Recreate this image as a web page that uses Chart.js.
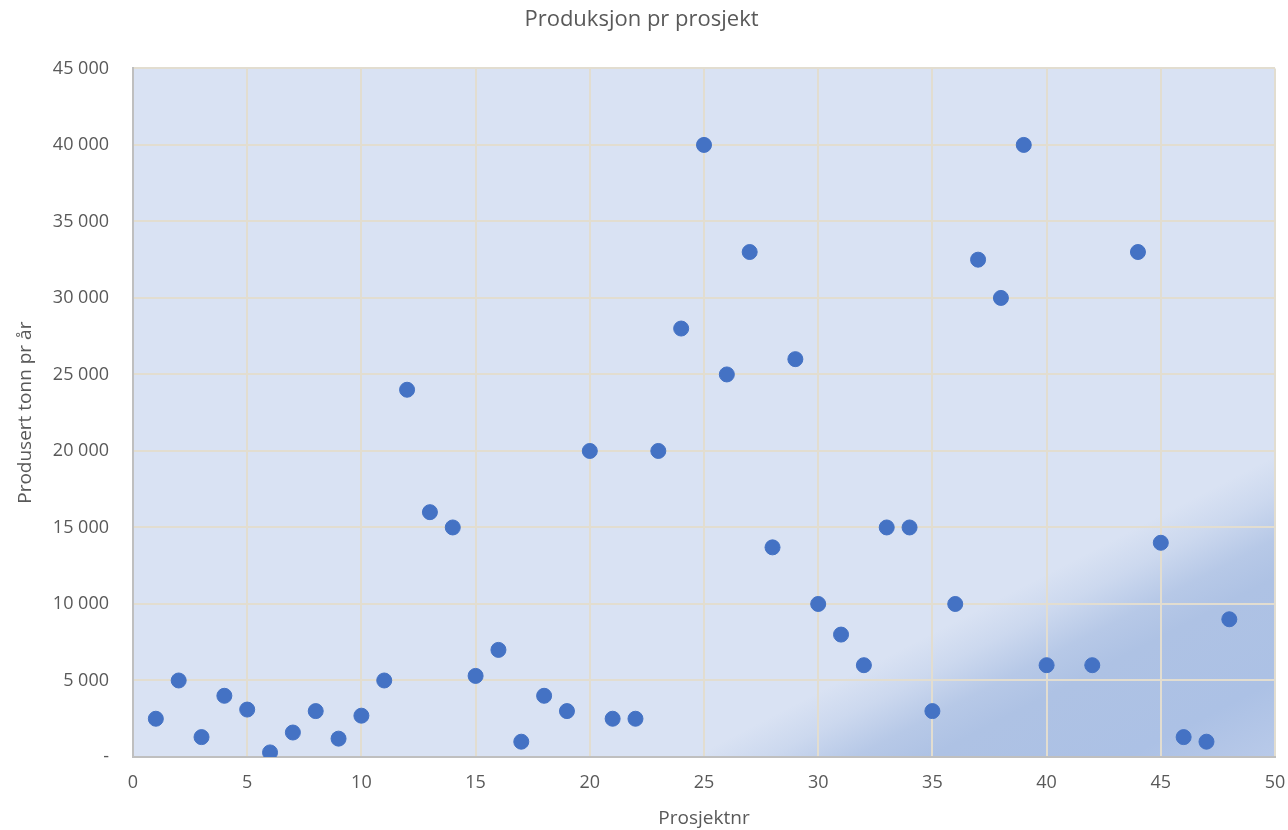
<!DOCTYPE html>
<html>
<head>
<meta charset="utf-8">
<script src="https://cdn.jsdelivr.net/npm/chart.js@4.4.1/dist/chart.umd.min.js"></script>
<style>
html,body{margin:0;padding:0;background:#fff;}
#wrap{width:1288px;height:830px;position:relative;}
</style>
</head>
<body>
<div id="wrap"><canvas id="c" width="1288" height="830"></canvas></div>
<script>
const chartTitle = "Produksjon pr prosjekt";
const xTitle = "Prosjektnr";
const yTitle = "Produsert tonn pr år";
const projectNumbers = [1,2,3,4,5,6,7,8,9,10,11,12,13,14,15,16,17,18,19,20,21,22,23,24,25,26,27,28,29,30,31,32,33,34,35,36,37,38,39,40,42,44,45,46,47,48];
const tonnesPerYear = [2500,5000,1300,4000,3100,300,1600,3000,1200,2700,5000,24000,16000,15000,5300,7000,1000,4000,3000,20000,2500,2500,20000,28000,40000,25000,33000,13700,26000,10000,8000,6000,15000,15000,3000,10000,32500,30000,40000,6000,6000,33000,14000,1300,1000,9000];
const xTickValues = [0,5,10,15,20,25,30,35,40,45,50];
const yTickValues = [0,5000,10000,15000,20000,25000,30000,35000,40000,45000];

const points = projectNumbers.map((x,i)=>({x:x,y:tonnesPerYear[i]}));

const bgPlugin = {
  id:'bgPlugin',
  beforeDraw(chart){
    const {ctx, chartArea:a} = chart;
    const w=a.right-a.left, h=a.bottom-a.top;
    ctx.save();
    ctx.fillStyle='#D9E2F3';
    ctx.fillRect(a.left,a.top,w,h);
    const p0x = a.left + w*0.49, p0y = a.bottom;
    const nx=0.459, ny=0.888;
    const L = 285;
    const g = ctx.createLinearGradient(p0x, p0y, p0x+nx*L, p0y+ny*L);
    g.addColorStop(0,'rgba(174,194,228,0)');
    g.addColorStop(0.12,'rgba(174,194,228,0.3)');
    g.addColorStop(0.26,'rgba(174,194,228,0.8)');
    g.addColorStop(0.38,'rgba(174,194,228,1)');
    g.addColorStop(0.7,'rgba(172,193,229,1)');
    g.addColorStop(1,'rgba(188,204,234,1)');
    ctx.fillStyle=g;
    ctx.fillRect(a.left,a.top,w,h);
    ctx.restore();
  }
};

function fmt(v){
  if(v===0) return '-';
  return String(v).replace(/\B(?=(\d{3})+(?!\d))/g,' ');
}

const FONT = "'Open Sans', 'Liberation Sans', sans-serif";
const TXT = '#595959';

new Chart(document.getElementById('c'),{
  type:'scatter',
  data:{datasets:[{
    data:points,
    backgroundColor:'#4472C4',
    borderColor:'#4472C4',
    pointRadius:7.5,
    pointHoverRadius:7.5
  }]},
  options:{
    responsive:false,
    animation:false,
    layout:{padding:{left:8,right:13,top:0,bottom:0}},
    plugins:{
      legend:{display:false},
      tooltip:{enabled:false},
      title:{display:true,text:chartTitle,color:TXT,font:{family:FONT,size:22,weight:'normal'},padding:{top:7,bottom:35}}
    },
    scales:{
      x:{
        type:'linear',min:0,max:50,
        afterBuildTicks(s){s.ticks=xTickValues.map(v=>({value:v}));},
        afterFit(s){s.height=73; s.paddingLeft=0; s.paddingRight=0;},
        ticks:{color:TXT,font:{family:FONT,size:18},padding:15,maxRotation:0},
        grid:{color:'#E2DDD0',lineWidth:2,drawTicks:false},
        border:{color:'#BFBFBF',width:2},
        title:{display:true,text:xTitle,color:TXT,font:{family:FONT,size:19},padding:{top:0,bottom:0}}
      },
      y:{
        type:'linear',min:0,max:45000,
        afterBuildTicks(s){s.ticks=yTickValues.map(v=>({value:v}));},
        afterFit(s){s.width=125; s.paddingTop=0; s.paddingBottom=0;},
        ticks:{color:TXT,font:{family:FONT,size:18},padding:24,callback:(v)=>fmt(v)},
        grid:{color:'#E2DDD0',lineWidth:2,drawTicks:false},
        border:{color:'#BFBFBF',width:2},
        title:{display:true,text:yTitle,color:TXT,font:{family:FONT,size:19},padding:{top:6,bottom:0}}
      }
    }
  },
  plugins:[bgPlugin]
});
</script>
</body>
</html>
